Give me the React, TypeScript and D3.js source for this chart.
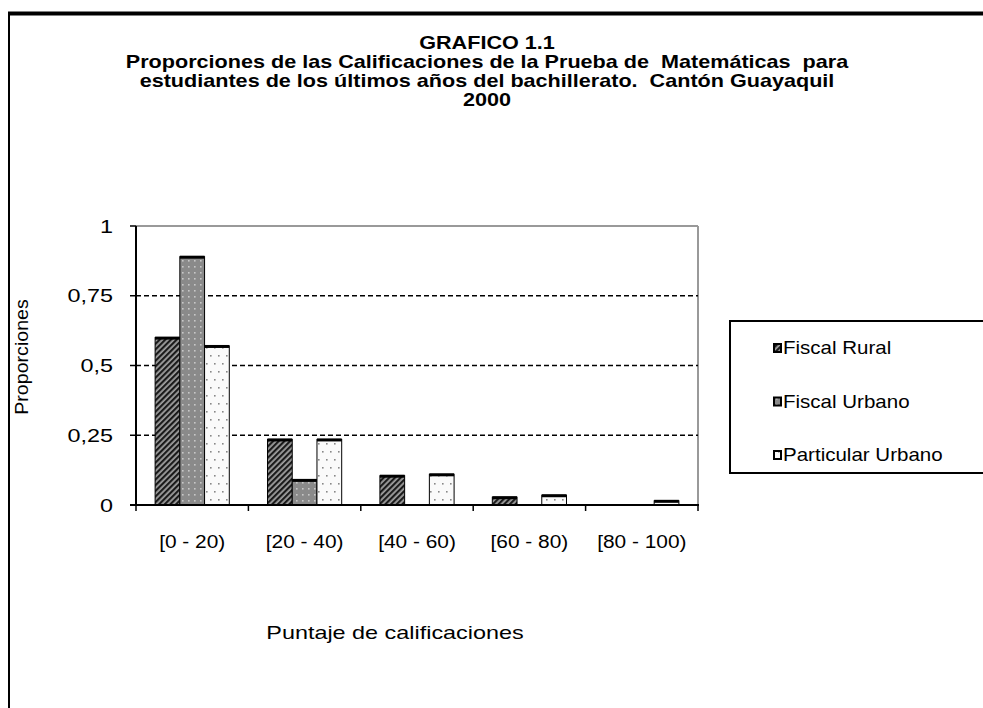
import React from "react";
import * as d3 from "d3";

const categories = ["[0 - 20)", "[20 - 40)", "[40 - 60)", "[60 - 80)", "[80 - 100)"];
const seriesNames = ["Fiscal Rural", "Fiscal Urbano", "Particular Urbano"];
const fiscalRural = [0.6, 0.235, 0.105, 0.028, 0];
const fiscalUrbano = [0.89, 0.09, 0, 0, 0];
const particularUrbano = [0.57, 0.235, 0.11, 0.035, 0.015];
const yTicks = [0, 0.25, 0.5, 0.75, 1];
const yTickLabels = ["0", "0,25", "0,5", "0,75", "1"];
const titleLines = [
  "GRAFICO 1.1",
  "Proporciones de las Calificaciones de la Prueba de  Matemáticas  para",
  "estudiantes de los últimos años del bachillerato.  Cantón Guayaquil",
  "2000",
];

const seriesValues = [fiscalRural, fiscalUrbano, particularUrbano];
const patternIds = ["patFR", "patFU", "patPU"];
const font = "'Liberation Sans', Arial, sans-serif";

function T(props: {
  x: number;
  y: number;
  sx: number;
  anchor?: "start" | "middle" | "end";
  size?: number;
  bold?: boolean;
  rotate?: number;
  children: React.ReactNode;
}) {
  const { x, y, sx, anchor = "start", size = 18, bold = false, rotate = 0, children } = props;
  return (
    <text
      transform={`translate(${x},${y})${rotate ? ` rotate(${rotate})` : ""} scale(${sx},1)`}
      textAnchor={anchor}
      fontFamily={font}
      fontSize={size}
      fontWeight={bold ? "bold" : "normal"}
      fill="#000"
      style={{ whiteSpace: "pre" }}
    >
      {children}
    </text>
  );
}

export default function App() {
  const W = 983;
  const H = 708;
  const left = 136;
  const right = 698;
  const top = 226;
  const bottom = 505;

  const x = d3.scaleBand<string>().domain(categories).range([left, right]).padding(0);
  const step = x.step();
  const inner = d3
    .scaleBand<string>()
    .domain(seriesNames)
    .range([step * 0.17, step * 0.83])
    .padding(0);
  const y = d3.scaleLinear().domain([0, 1]).range([bottom, top]);

  const bars: { key: string; x: number; w: number; y0: number; y1: number; s: number }[] = [];
  seriesNames.forEach((s, si) => {
    seriesValues[si].forEach((v, ci) => {
      if (v <= 0) return;
      bars.push({
        key: s + ci,
        x: (x(categories[ci]) as number) + (inner(s) as number),
        w: inner.bandwidth(),
        y0: y(0),
        y1: y(v),
        s: si,
      });
    });
  });

  const boundaries = d3.range(categories.length + 1).map((i) => left + i * step);

  return (
    <svg width={W} height={H} style={{ position: "absolute", left: 0, top: 0, background: "#fff" }}>
      <defs>
        <pattern id="patFR" width="4" height="4" patternUnits="userSpaceOnUse" patternTransform="rotate(45)">
          <rect width="4" height="4" fill="#a0a0a0" />
          <rect width="2.2" height="4" fill="#1a1a1a" />
        </pattern>
        <pattern id="patFU" width="6" height="6" patternUnits="userSpaceOnUse">
          <rect width="6" height="6" fill="#8a8a8a" />
          <rect x="2" y="2" width="1.6" height="1.6" fill="#c8c8c8" />
        </pattern>
        <pattern id="patPU" width="8" height="16" patternUnits="userSpaceOnUse">
          <rect width="8" height="16" fill="#fafafa" />
          <rect x="2" y="3" width="1.6" height="1.6" fill="#888" />
          <rect x="6" y="11" width="1.6" height="1.6" fill="#888" />
        </pattern>
      </defs>

      {/* outer frame */}
      <line x1={8} x2={983} y1={13.5} y2={13.5} stroke="#000" strokeWidth={4} />
      <line x1={9} x2={9} y1={12} y2={708} stroke="#000" strokeWidth={2} />

      {/* title */}
      {titleLines.map((t, i) => (
        <T key={i} x={487} y={49 + i * 19} sx={1.2} anchor="middle" bold>
          {t}
        </T>
      ))}

      {/* plot area border (grey) */}
      <line x1={left} x2={right} y1={top} y2={top} stroke="#999" strokeWidth={2} />
      <line x1={right} x2={right} y1={top} y2={bottom} stroke="#999" strokeWidth={2} />

      {/* gridlines */}
      {yTicks
        .filter((t) => t > 0 && t < 1)
        .map((t) => (
          <line key={t} x1={left} x2={right} y1={y(t)} y2={y(t)} stroke="#000" strokeWidth={1.5} strokeDasharray="5,3" />
        ))}

      {/* bars */}
      {bars.map((b) => (
        <g key={b.key}>
          <rect
            x={b.x}
            y={b.y1}
            width={b.w}
            height={b.y0 - b.y1}
            fill={`url(#${patternIds[b.s]})`}
            stroke="#000"
            strokeWidth={1}
          />
          <rect x={b.x} y={b.y1 - 1} width={b.w} height={3} fill="#000" />
        </g>
      ))}

      {/* y axis */}
      <line x1={left} x2={left} y1={top} y2={bottom + 1} stroke="#000" strokeWidth={2} />
      {yTicks.map((t, i) => (
        <g key={t}>
          <line x1={left - 6} x2={left} y1={y(t)} y2={y(t)} stroke="#000" strokeWidth={1.5} />
          <T x={113} y={y(t) + 6.5} sx={1.3} anchor="end">
            {yTickLabels[i]}
          </T>
        </g>
      ))}

      {/* x axis */}
      <line x1={left - 6} x2={right + 1} y1={bottom} y2={bottom} stroke="#000" strokeWidth={2} />
      {boundaries.map((bx, i) => (
        <line key={i} x1={bx} x2={bx} y1={bottom} y2={bottom + 6} stroke="#000" strokeWidth={1.5} />
      ))}
      {categories.map((c) => (
        <T key={c} x={(x(c) as number) + step / 2} y={548} sx={1.16} anchor="middle">
          {c}
        </T>
      ))}

      {/* axis titles */}
      <T x={395} y={639} sx={1.3} anchor="middle">
        Puntaje de calificaciones
      </T>
      <T x={28} y={357} sx={1.09} anchor="middle" rotate={-90}>
        Proporciones
      </T>

      {/* legend */}
      <rect x={730} y={321} width={260} height={152} fill="#fff" stroke="#000" strokeWidth={2} />
      {seriesNames.map((s, i) => (
        <g key={s}>
          <rect
            x={774}
            y={344 + i * 53.5}
            width={7}
            height={8}
            fill={`url(#${patternIds[i]})`}
            stroke="#000"
            strokeWidth={2}
          />
          <T x={783} y={354 + i * 53.5} sx={1.14}>
            {s}
          </T>
        </g>
      ))}
    </svg>
  );
}
